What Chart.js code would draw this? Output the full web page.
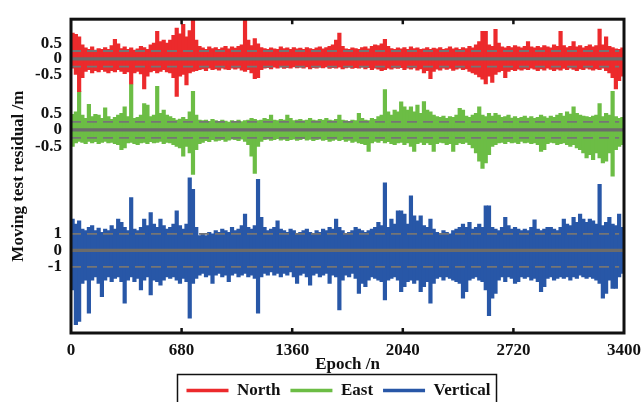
<!DOCTYPE html>
<html><head><meta charset="utf-8">
<script src="https://cdn.jsdelivr.net/npm/chart.js@4.4.1/dist/chart.umd.min.js"></script>
<style>html,body{margin:0;padding:0;background:#fff}canvas{display:block}</style>
</head><body><canvas id="c" width="641" height="402" style="width:641px;height:402px"></canvas>
<script>
// ---------- data (metres; each value = envelope of one 20-epoch bin) ----------
const BIN = 20;
const xTicks = [0, 680, 1360, 2040, 2720, 3400];
const seriesNames = ['North', 'East', 'Vertical'];
const yTickValues = [[0.5, 0, -0.5], [0.5, 0, -0.5], [1, 0, -1]];
const yTickLabels = [['0.5', '0', '-0.5'], ['0.5', '0', '-0.5'], ['1', '0', '-1']];
const thresholds = [0.25, 0.24, 1.0];

const northHi = [
0.82,0.78,0.70,0.45,0.35,0.30,0.38,0.28,0.33,0.30,
0.36,0.30,0.42,0.62,0.48,0.33,0.38,0.30,0.35,0.28,
0.32,0.40,0.36,0.30,0.45,0.50,0.88,0.55,0.60,0.50,
0.60,0.75,0.98,0.80,1.10,0.70,0.90,1.27,0.60,0.40,
0.35,0.30,0.38,0.33,0.36,0.30,0.35,0.40,0.32,0.38,
0.34,0.40,0.45,1.30,0.60,0.42,0.65,0.48,0.36,0.33,
0.30,0.35,0.32,0.30,0.38,0.33,0.35,0.30,0.36,0.32,
0.34,0.30,0.36,0.33,0.30,0.35,0.38,0.32,0.36,0.40,
0.45,0.60,0.82,0.40,0.32,0.30,0.35,0.33,0.30,0.36,
0.38,0.32,0.40,0.45,0.42,0.48,0.62,0.40,0.33,0.30,
0.35,0.32,0.36,0.30,0.38,0.33,0.35,0.30,0.32,0.36,
0.30,0.34,0.32,0.36,0.30,0.33,0.38,0.32,0.35,0.30,
0.36,0.33,0.40,0.35,0.45,0.55,0.88,0.88,0.45,0.40,
0.94,0.50,0.38,0.35,0.40,0.36,0.42,0.38,0.35,0.40,
0.55,0.38,0.35,0.40,0.36,0.42,0.38,0.35,0.45,0.40,
0.88,0.42,0.36,0.40,0.55,0.38,0.42,0.35,0.40,0.45,
0.38,0.42,0.95,0.45,0.70,0.40,0.36,0.32,0.30,0.35];
const northLo = [
-0.30,-0.50,-1.05,-0.60,-0.40,-0.35,-0.45,-0.38,-0.42,-0.35,
-0.40,-0.45,-0.38,-0.42,-0.35,-0.40,-0.47,-0.42,-0.80,-0.45,
-0.40,-0.48,-0.96,-0.55,-0.42,-0.38,-0.45,-0.40,-0.35,-0.42,
-0.45,-0.60,-1.20,-0.55,-0.50,-0.83,-0.45,-0.40,-0.38,-0.35,
-0.32,-0.38,-0.30,-0.35,-0.32,-0.36,-0.30,-0.33,-0.35,-0.30,
-0.33,-0.30,-0.36,-0.40,-0.35,-0.45,-0.63,-0.60,-0.35,-0.30,
-0.28,-0.32,-0.27,-0.30,-0.26,-0.31,-0.28,-0.30,-0.26,-0.29,
-0.27,-0.30,-0.26,-0.32,-0.28,-0.30,-0.27,-0.29,-0.26,-0.31,
-0.28,-0.30,-0.27,-0.32,-0.29,-0.27,-0.31,-0.28,-0.30,-0.27,
-0.32,-0.28,-0.35,-0.30,-0.33,-0.38,-0.35,-0.30,-0.33,-0.29,
-0.31,-0.28,-0.35,-0.30,-0.33,-0.29,-0.36,-0.32,-0.45,-0.38,
-0.63,-0.40,-0.33,-0.36,-0.30,-0.34,-0.31,-0.37,-0.33,-0.30,
-0.35,-0.32,-0.40,-0.45,-0.50,-0.58,-0.65,-0.80,-0.55,-0.75,
-0.50,-0.42,-0.38,-0.60,-0.40,-0.35,-0.38,-0.33,-0.36,-0.32,
-0.35,-0.30,-0.33,-0.38,-0.32,-0.36,-0.30,-0.34,-0.38,-0.33,
-0.36,-0.31,-0.35,-0.30,-0.34,-0.38,-0.32,-0.35,-0.30,-0.33,
-0.36,-0.32,-0.35,-0.30,-0.38,-0.45,-0.60,-0.96,-0.70,-0.55];

const eastHi = [
0.47,0.55,1.17,0.45,0.35,0.77,0.40,0.47,0.45,0.35,
0.67,0.40,0.32,0.38,0.45,0.50,0.70,0.40,1.38,0.35,
0.38,0.45,0.80,0.75,0.40,0.45,1.32,0.50,0.60,0.45,
0.40,0.35,0.30,0.33,0.38,0.32,0.55,1.17,0.45,0.30,
0.28,0.30,0.26,0.32,0.28,0.25,0.30,0.27,0.24,0.28,
0.26,0.30,0.25,0.28,0.30,0.35,0.32,0.28,0.30,0.35,
0.32,0.45,0.30,0.28,0.32,0.30,0.45,0.35,0.28,0.30,
0.32,0.28,0.30,0.35,0.30,0.28,0.32,0.30,0.35,0.30,
0.28,0.32,0.45,0.30,0.28,0.25,0.30,0.28,0.50,0.35,
0.30,0.28,0.35,0.32,0.40,0.45,1.22,0.55,0.45,0.60,
0.55,0.85,0.70,0.60,0.70,0.55,0.75,0.50,0.86,0.60,
0.55,0.45,0.40,0.38,0.42,0.35,0.40,0.38,0.45,0.65,
0.60,0.42,0.38,0.45,0.50,0.70,0.45,0.40,0.50,0.42,
0.50,0.45,0.38,0.40,0.45,0.36,0.40,0.35,0.38,0.42,
0.36,0.40,0.35,0.38,0.45,0.40,0.36,0.42,0.38,0.45,
0.50,0.42,0.55,0.48,0.70,0.50,0.45,0.42,0.40,0.38,
0.42,0.45,0.80,0.40,0.50,0.45,1.17,0.40,0.35,0.38];
const eastLo = [
-0.50,-0.40,-0.35,-0.38,-0.42,-0.35,-0.40,-0.36,-0.42,-0.38,
-0.35,-0.40,-0.38,-0.42,-0.45,-0.60,-0.55,-0.40,-0.38,-0.42,
-0.45,-0.40,-0.38,-0.42,-0.36,-0.40,-0.38,-0.35,-0.42,-0.38,
-0.40,-0.45,-0.50,-0.55,-0.80,-0.50,-0.70,-1.35,-0.60,-0.42,
-0.38,-0.33,-0.36,-0.30,-0.34,-0.32,-0.30,-0.35,-0.31,-0.28,
-0.30,-0.33,-0.28,-0.35,-0.45,-0.80,-1.32,-0.50,-0.35,-0.30,
-0.28,-0.32,-0.30,-0.27,-0.31,-0.29,-0.33,-0.30,-0.28,-0.32,
-0.30,-0.27,-0.31,-0.29,-0.33,-0.30,-0.28,-0.32,-0.30,-0.35,
-0.32,-0.29,-0.33,-0.30,-0.35,-0.32,-0.38,-0.35,-0.40,-0.42,
-0.45,-0.65,-0.40,-0.35,-0.38,-0.33,-0.40,-0.36,-0.42,-0.45,
-0.40,-0.38,-0.45,-0.40,-0.50,-0.65,-0.42,-0.38,-0.45,-0.40,
-0.45,-0.65,-0.42,-0.38,-0.40,-0.45,-0.42,-0.65,-0.45,-0.40,
-0.42,-0.38,-0.45,-0.55,-0.70,-0.95,-1.17,-1.00,-0.75,-0.50,
-0.45,-0.40,-0.38,-0.42,-0.36,-0.40,-0.38,-0.42,-0.35,-0.40,
-0.38,-0.42,-0.40,-0.45,-0.65,-0.60,-0.42,-0.38,-0.40,-0.45,
-0.42,-0.40,-0.45,-0.50,-0.45,-0.55,-0.60,-0.70,-0.85,-0.75,
-0.90,-0.70,-0.85,-1.00,-0.95,-0.70,-1.40,-0.60,-0.50,-0.45];

const vertHi = [
1.90,1.60,1.80,1.30,1.20,1.40,1.50,1.20,1.35,1.10,
1.30,1.20,1.50,1.30,1.90,1.70,1.40,1.20,3.20,1.30,
1.20,1.40,1.90,1.50,2.30,1.60,1.40,1.90,1.50,1.30,
1.40,1.60,2.40,1.50,1.30,1.60,4.40,3.70,1.40,0.90,
1.00,0.90,1.10,1.00,1.20,1.10,1.30,1.20,1.10,1.40,
1.20,1.30,1.50,2.20,1.40,1.30,1.50,4.30,2.00,1.40,
1.20,1.30,1.40,1.80,1.30,1.20,1.10,1.30,1.20,1.00,
1.10,1.20,1.30,1.10,1.00,1.20,1.10,1.30,1.20,1.40,
1.30,1.90,1.40,1.20,1.00,1.10,1.20,1.40,1.30,1.20,
1.10,1.20,1.30,1.40,1.70,1.50,4.10,1.40,1.90,1.60,
2.40,2.40,2.20,1.60,3.30,2.10,1.80,2.10,1.50,1.40,
1.90,1.30,1.10,1.00,1.20,1.10,1.00,1.20,1.30,1.40,
1.60,1.40,1.70,1.30,1.40,1.60,1.40,2.70,2.70,1.40,
1.30,1.20,1.40,2.00,1.50,1.30,1.40,1.30,1.20,1.30,
1.20,1.40,1.85,1.30,1.20,1.30,1.40,1.40,1.30,1.20,
1.40,1.90,1.60,1.50,2.00,1.70,2.20,1.90,1.70,1.90,
1.80,1.60,4.00,1.50,1.70,2.00,1.60,1.50,2.20,1.40];
const vertLo = [
-2.40,-4.50,-4.30,-2.00,-1.80,-3.80,-1.80,-1.60,-2.00,-2.80,
-1.80,-1.60,-1.90,-1.70,-1.60,-1.90,-3.20,-1.80,-1.60,-1.90,
-1.70,-2.40,-1.80,-1.60,-2.70,-1.80,-1.90,-2.10,-1.80,-1.60,
-1.70,-1.60,-1.80,-2.00,-1.70,-1.90,-4.10,-2.00,-1.70,-1.50,
-1.40,-1.60,-1.50,-2.00,-1.50,-1.40,-1.60,-1.50,-1.90,-1.50,
-1.40,-1.60,-1.50,-1.40,-1.60,-1.50,-1.70,-3.80,-1.60,-1.40,
-1.50,-1.30,-1.50,-1.40,-1.60,-1.40,-1.50,-1.30,-1.60,-2.00,
-1.50,-1.40,-1.60,-2.10,-1.50,-1.40,-1.60,-1.50,-1.40,-2.00,
-1.50,-1.60,-3.60,-1.80,-1.50,-1.60,-1.40,-1.70,-2.60,-2.00,
-2.20,-1.80,-1.60,-1.70,-1.80,-1.90,-3.00,-1.80,-1.70,-1.60,
-1.80,-2.50,-2.20,-1.90,-1.80,-2.00,-1.80,-2.50,-2.20,-1.90,
-3.20,-2.00,-1.70,-1.60,-1.80,-1.60,-1.70,-1.80,-1.90,-2.00,
-2.90,-2.50,-1.80,-1.70,-1.60,-1.80,-1.90,-2.40,-3.95,-2.90,
-2.60,-1.80,-1.60,-1.90,-1.60,-1.70,-2.00,-1.90,-1.60,-1.70,
-1.60,-1.80,-1.70,-1.90,-2.50,-2.20,-1.70,-1.60,-1.80,-1.70,
-1.60,-1.70,-1.60,-1.80,-1.60,-1.70,-1.50,-1.60,-1.70,-1.60,
-1.70,-1.80,-2.00,-2.90,-2.60,-1.80,-2.30,-2.30,-1.60,-1.40];

// ---------- style / layout ----------
const FONT = "'Liberation Serif', 'Times New Roman', serif";
const seriesColors = ['#ec2a2c', '#6cbd45', '#2857a7'];
const GRAY = '#6b6b6b';
const lanes = [{off: 11.6, k: 1.9}, {off: 7.3, k: 2.0}, {off: 0, k: 1.0}];
const his = [northHi, eastHi, vertHi];
const los = [northLo, eastLo, vertLo];

Chart.defaults.font.family = FONT;

const barSets = seriesNames.map((name, s) => ({
  type: 'bar', label: name,
  data: his[s].map((h, i) => ({
    x: BIN * i + BIN / 2,
    y: [lanes[s].off + lanes[s].k * los[s][i], lanes[s].off + lanes[s].k * h]
  })),
  backgroundColor: seriesColors[s], borderWidth: 0, inflateAmount: 0.3,
  barThickness: 3.6, grouped: false, order: 3
}));

const refSets = [];
seriesNames.forEach((name, s) => {
  const L = lanes[s];
  refSets.push({type: 'line', label: '_zero', data: [{x: 0, y: L.off}, {x: 3400, y: L.off}],
    borderColor: GRAY, borderWidth: 3.2, pointRadius: 0, order: 1});
  [1, -1].forEach(sg => {
    const yv = L.off + sg * L.k * thresholds[s];
    refSets.push({type: 'line', label: '_thr', data: [{x: 0, y: yv}, {x: 3370, y: yv}],
      borderColor: '#757575', borderWidth: 1.8, borderDash: [10, 6], pointRadius: 0, order: 1});
  });
});

const yTickList = [];
seriesNames.forEach((n, s) => yTickValues[s].forEach((v, j) =>
  yTickList.push({value: lanes[s].off + lanes[s].k * v, label: yTickLabels[s][j]})));

const LEGEND_SHIFT = -9;

const framePlugin = {
  id: 'frame',
  afterLayout(ch) {
    ch.legend.left += LEGEND_SHIFT;
    ch.legend.right += LEGEND_SHIFT;
  },
  afterDatasetsDraw(ch) {
    const {ctx, chartArea: a, scales: {x}} = ch;
    ctx.save();
    ctx.strokeStyle = '#111';
    ctx.lineWidth = 3;
    ctx.strokeRect(a.left, a.top, a.right - a.left, a.bottom - a.top);
    ctx.lineWidth = 2.5;
    xTicks.slice(1, -1).forEach(v => {
      const px = x.getPixelForValue(v);
      ctx.beginPath();
      ctx.moveTo(px, a.bottom); ctx.lineTo(px, a.bottom - 5);
      ctx.moveTo(px, a.top); ctx.lineTo(px, a.top + 5);
      ctx.stroke();
    });
    ctx.restore();
  },
  afterDraw(ch) {
    const hb = ch.legend.legendHitBoxes;
    if (!hb || !hb.length) return;
    const ctx = ch.ctx;
    const l = hb[0].left - 9;
    const r = hb[hb.length - 1].left + hb[hb.length - 1].width + 6;
    ctx.save();
    ctx.strokeStyle = '#111';
    ctx.lineWidth = 1.5;
    ctx.strokeRect(l, 374.5, r - l, 40);
    ctx.restore();
  }
};

const labelFont = {family: FONT, size: 17, weight: 'bold'};

new Chart(document.getElementById('c'), {
  type: 'bar',
  data: {datasets: [...barSets, ...refSets]},
  plugins: [framePlugin],
  options: {
    responsive: false, animation: false, devicePixelRatio: 1,
    layout: {padding: {left: 0, top: 17, right: 17, bottom: 0}},
    scales: {
      x: {
        type: 'linear', min: 0, max: 3400, offset: false,
        grid: {display: false, drawTicks: false}, border: {display: false},
        afterBuildTicks: sc => { sc.ticks = xTicks.map(v => ({value: v})); },
        afterFit: sc => { sc.height = 39; sc.paddingRight = 0; sc.paddingLeft = 0; },
        ticks: {autoSkip: false, maxRotation: 0, padding: 7, color: '#111', font: labelFont,
          callback: v => String(v)},
        title: {display: true, text: 'Epoch /n', color: '#111', font: labelFont, padding: {top: 0, bottom: -3}}
      },
      y: {
        min: -5, max: 14,
        grid: {display: false, drawTicks: false}, border: {display: false},
        afterBuildTicks: sc => { sc.ticks = yTickList.map(t => ({value: t.value})); },
        afterFit: sc => { sc.width = 71; },
        ticks: {autoSkip: false, padding: 9, color: '#111', font: labelFont,
          callback: (v, i) => yTickList[i] ? yTickList[i].label : ''},
        title: {display: true, text: 'Moving test residual /m', color: '#111', font: labelFont,
          padding: {top: 8, bottom: 0}}
      }
    },
    plugins: {
      tooltip: {enabled: false},
      legend: {
        position: 'bottom', fullSize: false, maxHeight: 30,
        labels: {
          usePointStyle: true, pointStyleWidth: 42, padding: 10, color: '#111', font: labelFont,
          generateLabels: () => seriesNames.map((n, s) => ({
            text: n, fillStyle: seriesColors[s], strokeStyle: seriesColors[s], lineWidth: 3.5,
            pointStyle: 'line', datasetIndex: s, hidden: false, fontColor: '#111'
          }))
        }
      }
    }
  }
});
</script></body></html>
